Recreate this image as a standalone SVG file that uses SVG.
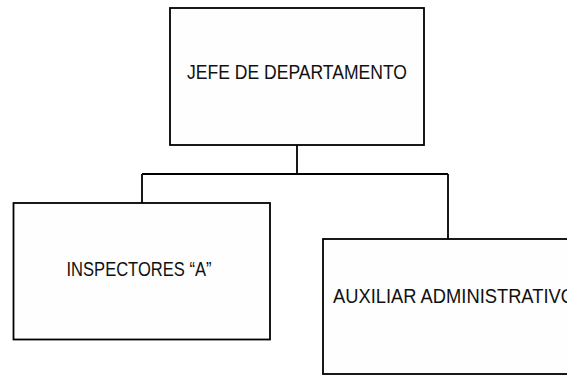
<svg xmlns="http://www.w3.org/2000/svg" width="567" height="375" viewBox="0 0 567 375">
<style>
.box{fill:#fefefe;stroke:#000;stroke-width:1.8}
.lbl{font-family:"Liberation Sans",Arial,sans-serif;font-size:19.5px;fill:#111}
.conn{fill:none;stroke:#000;stroke-width:1.8}
</style>
<rect width="567" height="375" fill="#fff"/>
<g id="connectors">
<path class="conn" d="M297 145 V174 M142 174 H448 M142 174 V203 M448 174 V239"/>
</g>
<g id="jefe">
<rect class="box" x="170" y="8" width="254" height="137"/>
<text class="lbl" x="187" y="79.3" textLength="220" lengthAdjust="spacingAndGlyphs">JEFE DE DEPARTAMENTO</text>
</g>
<g id="inspectores">
<rect class="box" x="13.5" y="203" width="256.5" height="136.5"/>
<text class="lbl" x="66.5" y="276" textLength="145" lengthAdjust="spacingAndGlyphs">INSPECTORES “A”</text>
</g>
<g id="auxiliar">
<rect class="box" x="323" y="239" width="262" height="135"/>
<text class="lbl" x="333" y="303" textLength="242" lengthAdjust="spacingAndGlyphs">AUXILIAR ADMINISTRATIVO</text>
</g>
</svg>
